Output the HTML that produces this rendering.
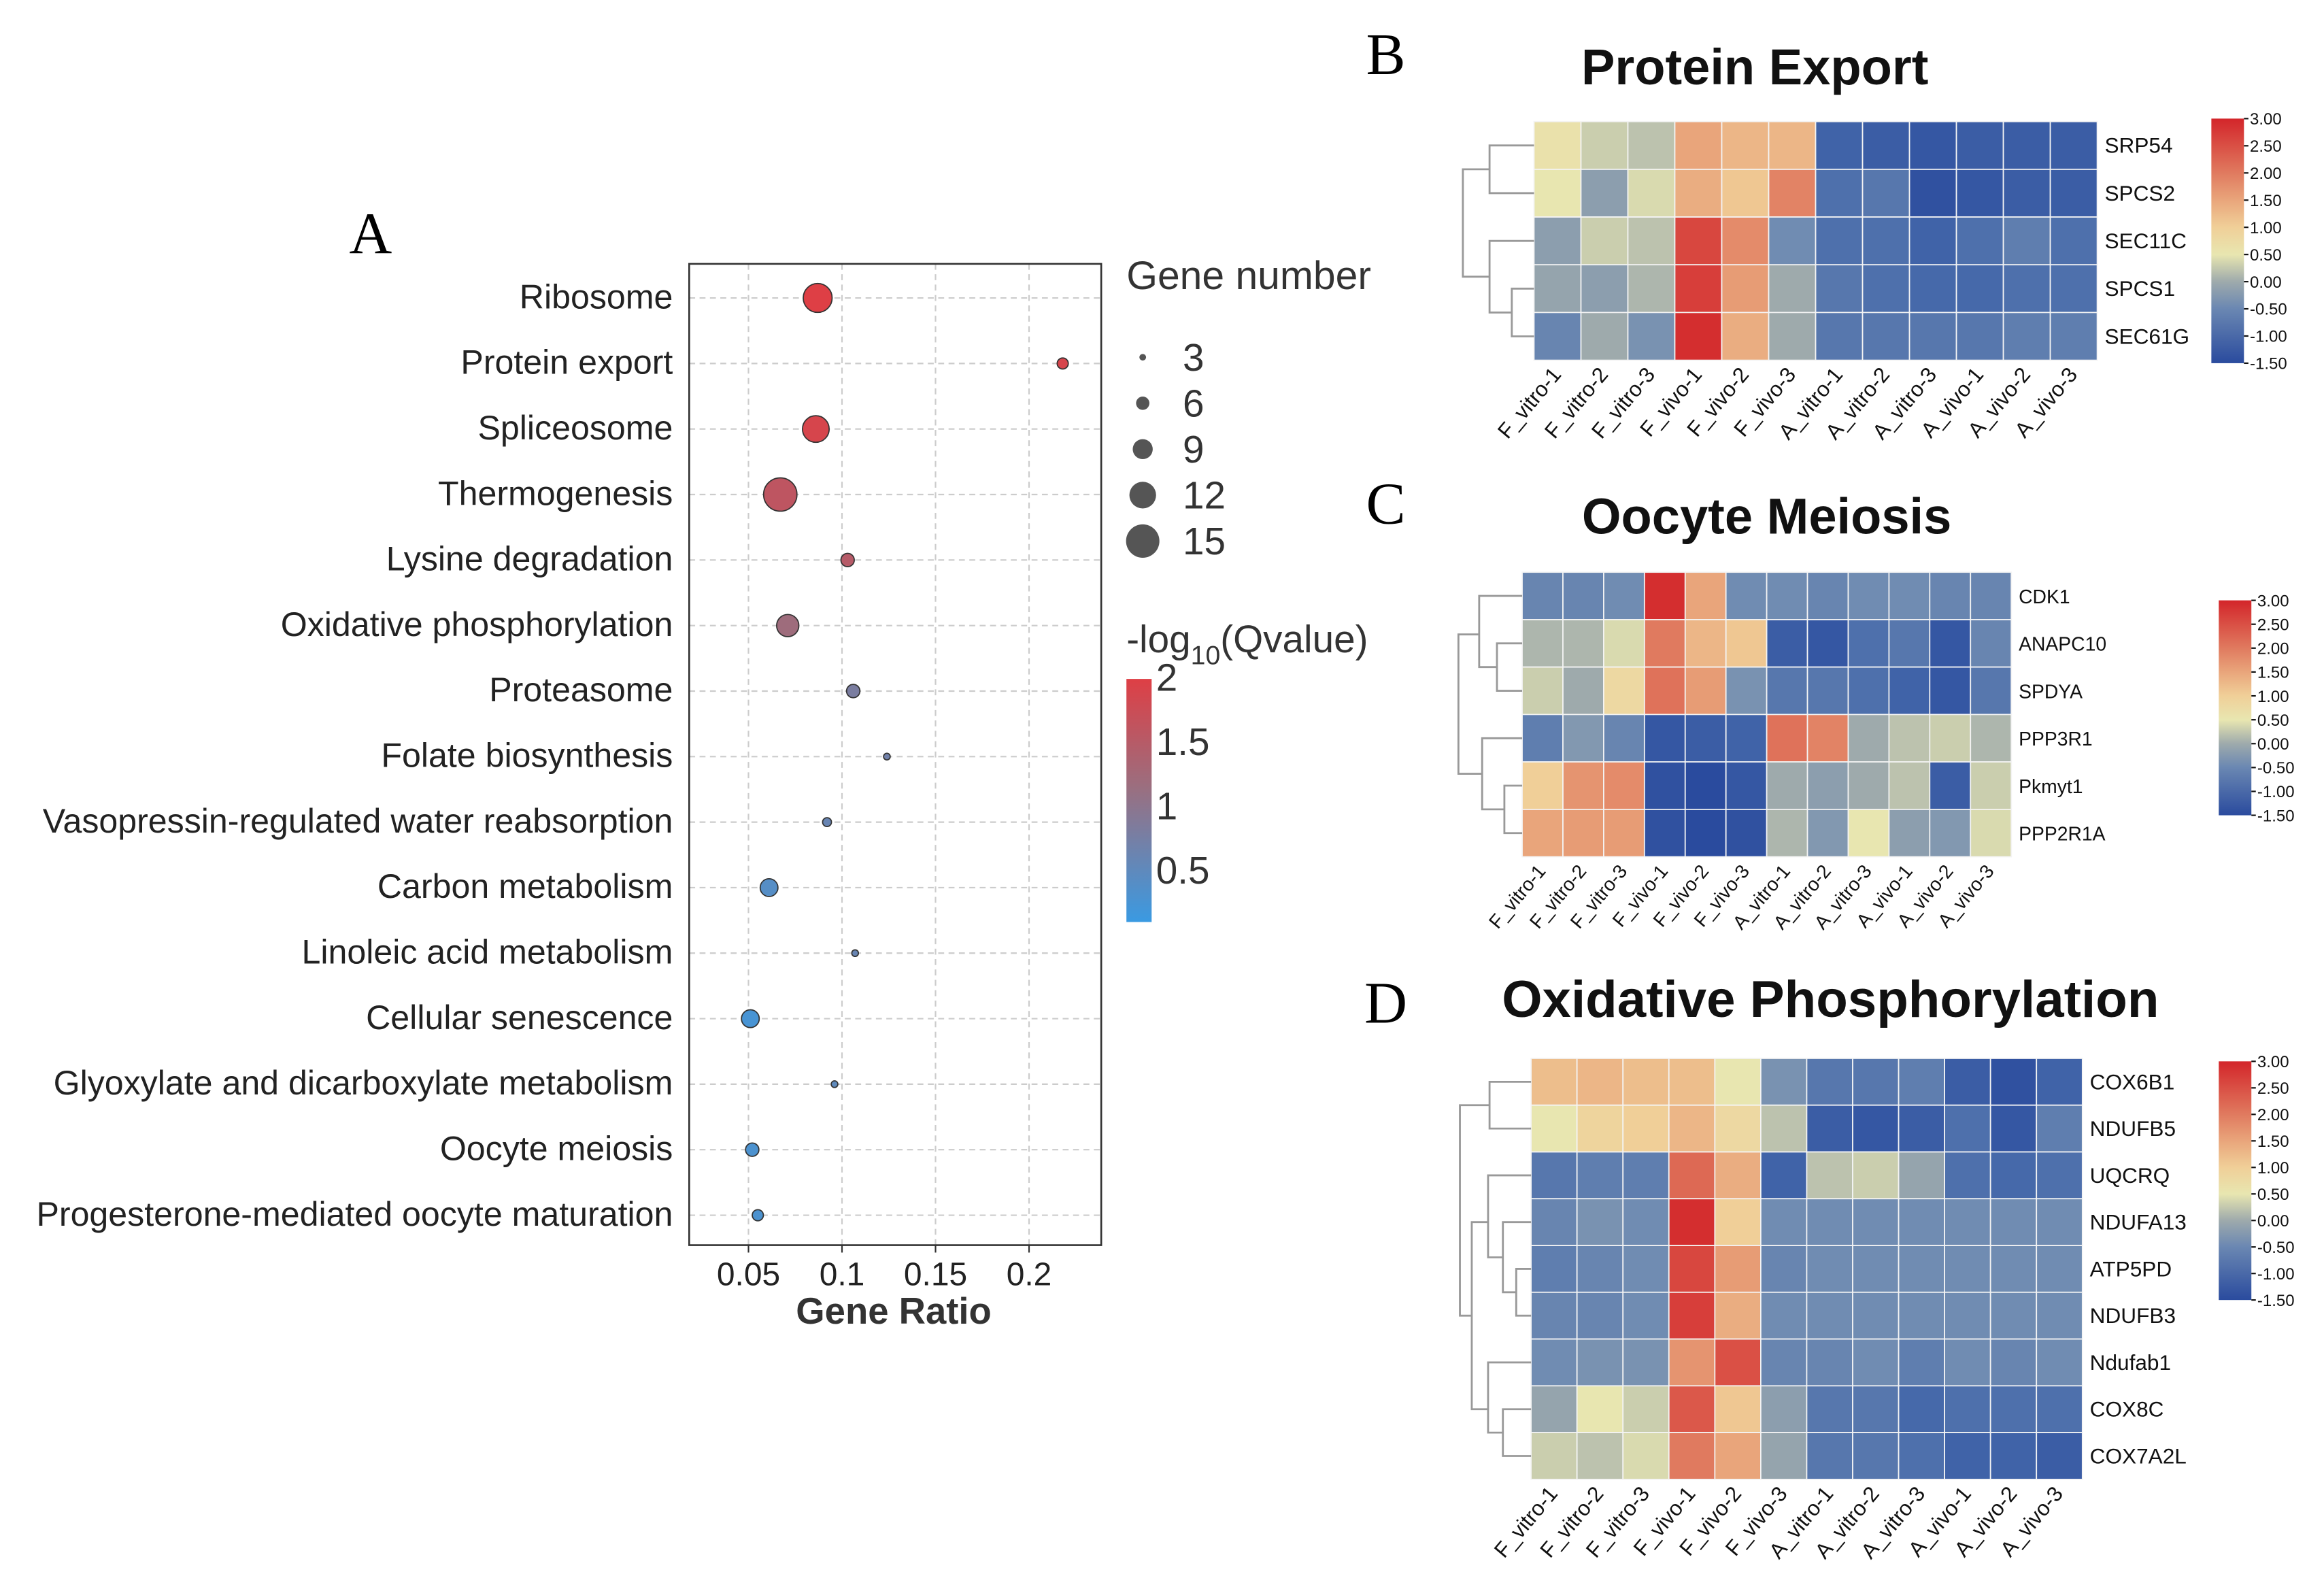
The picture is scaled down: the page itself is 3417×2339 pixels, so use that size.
<!DOCTYPE html>
<html><head><meta charset="utf-8"><style>html,body{margin:0;padding:0;background:#fff}svg{display:block}</style></head>
<body>
<svg id="fig" width="3417" height="2339" viewBox="0 0 1568 1073.3" xmlns="http://www.w3.org/2000/svg" font-family="Liberation Sans, sans-serif">
<defs>
<linearGradient id="qgrad" x1="0" y1="0" x2="0" y2="1"><stop offset="0" stop-color="#de3f45"/><stop offset="0.45" stop-color="#9a6f80"/><stop offset="1" stop-color="#3a9ae2"/></linearGradient>
<linearGradient id="hgrad" x1="0" y1="1" x2="0" y2="0">
<stop offset="0" stop-color="#2a4b9e"/><stop offset="0.222" stop-color="#6a87b2"/><stop offset="0.333" stop-color="#9eaaac"/><stop offset="0.444" stop-color="#e8e6b0"/><stop offset="0.556" stop-color="#f0cf98"/><stop offset="0.667" stop-color="#e9a57b"/><stop offset="0.778" stop-color="#e07a5f"/><stop offset="1" stop-color="#d3252a"/></linearGradient>
</defs>
<g id="panelA"></g>
<g id="heat"></g>
</svg>
<script>
const NS="http://www.w3.org/2000/svg";
function mk(p,tag,attrs,txt){const e=document.createElementNS(NS,tag);for(const k in attrs)e.setAttribute(k,attrs[k]);if(txt!==undefined)e.textContent=txt;p.appendChild(e);return e;}
const SERIF='Liberation Serif, serif';
// ---- Panel A data ----
const pathways=["Ribosome","Protein export","Spliceosome","Thermogenesis","Lysine degradation","Oxidative phosphorylation","Proteasome","Folate biosynthesis","Vasopressin-regulated water reabsorption","Carbon metabolism","Linoleic acid metabolism","Cellular senescence","Glyoxylate and dicarboxylate metabolism","Oocyte meiosis","Progesterone-mediated oocyte maturation"];
const geneRatio=[0.087,0.218,0.086,0.067,0.103,0.071,0.106,0.124,0.092,0.061,0.107,0.051,0.096,0.052,0.055];
const geneNumber=[13,5,12,15,6,10,6,3,4,8,3,8,3,6,5];
const qvalue=[2.0,1.9,1.9,1.6,1.5,1.2,0.8,0.7,0.6,0.4,0.6,0.25,0.5,0.3,0.3];
const xTicks=[0.05,0.1,0.15,0.2];
const sizeLegend=[3,6,9,12,15];
const qTicks=[2,1.5,1,0.5];
const A=document.getElementById('panelA');
const xS=v=>505+(v-0.05)*1262, yS=i=>201+i*44.2, rS=n=>0.75*n;
const qS=q=>458+(2-q)*86.7;
function qColor(q){const t=Math.max(0,Math.min(1,(2-q)/1.9));const s=[[222,63,69],[154,111,128],[58,154,226]];let a,b,u;if(t<0.45){a=s[0];b=s[1];u=t/0.45}else{a=s[1];b=s[2];u=(t-0.45)/0.55}return `rgb(${a.map((c,i)=>Math.round(c+(b[i]-c)*u)).join(',')})`;}
let el;
el=mk(A,'text',{x:250,y:171,'font-family':SERIF,'font-size':40,'text-anchor':'middle'},'A');

xTicks.forEach(t=>{el=mk(A,'line',{x1:xS(t),x2:xS(t),y1:178,y2:840,stroke:'#ccc','stroke-dasharray':'4,3'});});
pathways.forEach((p,i)=>{el=mk(A,'line',{x1:465,x2:743,y1:yS(i),y2:yS(i),stroke:'#ccc','stroke-dasharray':'4,3'});
 el=mk(A,'text',{x:454,y:yS(i)+7,'font-size':23,'text-anchor':'end',fill:'#222'},p);});
el=mk(A,'rect',{x:465,y:178,width:278,height:662,fill:'none',stroke:'#333','stroke-width':1.2});
pathways.forEach((p,i)=>{el=mk(A,'circle',{cx:xS(geneRatio[i]),cy:yS(i),r:rS(geneNumber[i]),fill:qColor(qvalue[i]),stroke:'#333','stroke-width':0.8});});
xTicks.forEach(t=>{el=mk(A,'line',{x1:xS(t),x2:xS(t),y1:840,y2:845,stroke:'#333'});
 el=mk(A,'text',{x:xS(t),y:867,'font-size':22,'text-anchor':'middle',fill:'#222'},String(t));});
el=mk(A,'text',{x:603,y:893,'font-size':25,'font-weight':'bold','text-anchor':'middle',fill:'#333'},'Gene Ratio');
el=mk(A,'text',{x:760,y:195,'font-size':27,fill:'#333'},'Gene number');
sizeLegend.forEach((n,i)=>{const y=241+i*31;el=mk(A,'circle',{cx:771,cy:y,r:rS(n),fill:'#555'});
 el=mk(A,'text',{x:798,y:y+9,'font-size':26,fill:'#333'},String(n));});
el=mk(A,'text',{x:760,y:440,'font-size':26,fill:'#333'});
el.innerHTML='-log<tspan font-size="18" dy="8">10</tspan><tspan dy="-8">(Qvalue)</tspan>';
el=mk(A,'rect',{x:760,y:458,width:17,height:164,fill:'url(#qgrad)'});
qTicks.forEach(q=>{el=mk(A,'text',{x:780,y:qS(q)+8,'font-size':26,fill:'#333'},String(q));});

// ---- Heatmap data ----
const samples=["F_vitro-1","F_vitro-2","F_vitro-3","F_vivo-1","F_vivo-2","F_vivo-3","A_vitro-1","A_vitro-2","A_vitro-3","A_vivo-1","A_vivo-2","A_vivo-3"];
const scaleTicks=["3.00","2.50","2.00","1.50","1.00","0.50","0.00","-0.50","-1.00","-1.50"];
const genesB=["SRP54","SPCS2","SEC11C","SPCS1","SEC61G"];
const valsB=[[0.6,0.3,0.2,1.5,1.3,1.3,-1.1,-1.2,-1.3,-1.2,-1.2,-1.2],[0.5,-0.2,0.4,1.4,1.1,1.9,-0.9,-0.8,-1.4,-1.3,-1.2,-1.2],[-0.2,0.3,0.2,2.6,1.8,-0.5,-0.9,-0.9,-1.1,-0.9,-0.7,-0.9],[-0.1,-0.2,0.1,2.7,1.6,0.0,-0.8,-0.9,-1.0,-1.0,-0.9,-0.9],[-0.6,0.0,-0.4,2.9,1.4,0.0,-0.8,-0.8,-0.8,-0.8,-0.7,-0.7]];
const genesC=["CDK1","ANAPC10","SPDYA","PPP3R1","Pkmyt1","PPP2R1A"];
const valsC=[[-0.6,-0.6,-0.5,2.9,1.5,-0.5,-0.5,-0.6,-0.5,-0.5,-0.6,-0.6],[0.1,0.1,0.4,2.0,1.3,1.1,-1.2,-1.3,-0.9,-0.8,-1.3,-0.6],[0.3,0.0,0.8,2.1,1.6,-0.4,-0.8,-0.8,-0.9,-1.1,-1.3,-0.8],[-0.7,-0.3,-0.6,-1.3,-1.2,-1.1,2.1,1.9,0.0,0.2,0.3,0.1],[1.0,1.7,1.8,-1.4,-1.5,-1.3,0.0,-0.2,0.0,0.2,-1.2,0.3],[1.5,1.6,1.6,-1.4,-1.5,-1.4,0.1,-0.3,0.5,-0.2,-0.3,0.4]];
const genesD=["COX6B1","NDUFB5","UQCRQ","NDUFA13","ATP5PD","NDUFB3","Ndufab1","COX8C","COX7A2L"];
const valsD=[[1.2,1.3,1.2,1.2,0.5,-0.4,-0.8,-0.8,-0.7,-1.2,-1.4,-1.1],[0.5,0.9,1.0,1.3,0.8,0.2,-1.2,-1.3,-1.2,-0.9,-1.3,-0.7],[-0.8,-0.7,-0.7,2.2,1.4,-1.1,0.2,0.3,-0.1,-0.9,-1.0,-0.9],[-0.6,-0.4,-0.5,2.9,1.0,-0.5,-0.5,-0.5,-0.5,-0.5,-0.5,-0.5],[-0.7,-0.6,-0.5,2.6,1.6,-0.6,-0.5,-0.5,-0.5,-0.5,-0.5,-0.5],[-0.6,-0.6,-0.5,2.7,1.4,-0.5,-0.5,-0.5,-0.5,-0.5,-0.5,-0.5],[-0.5,-0.4,-0.4,1.7,2.5,-0.6,-0.6,-0.5,-0.7,-0.5,-0.6,-0.5],[-0.1,0.5,0.3,2.4,1.1,-0.2,-0.8,-0.8,-1.0,-0.9,-0.9,-0.9],[0.3,0.2,0.4,2.0,1.5,-0.1,-0.8,-0.8,-0.9,-1.1,-1.1,-1.2]];

const stops=[[-1.5,[42,75,158]],[-1,[70,105,170]],[-0.5,[112,140,178]],[0,[158,170,172]],[0.5,[232,230,176]],[1,[240,207,152]],[1.5,[233,165,123]],[2,[224,122,95]],[3,[211,37,42]]];
function hColor(v){v=Math.max(-1.5,Math.min(3,v));for(let i=0;i<stops.length-1;i++){const[a,ca]=stops[i],[b,cb]=stops[i+1];if(v<=b){const u=(v-a)/(b-a);return `rgb(${ca.map((c,k)=>Math.round(c+(cb[k]-c)*u)).join(',')})`;}}return 'rgb(211,37,42)';}
const H=document.getElementById('heat');
function heat(cfg){
 const g=mk(H,'g',{});
 let e=mk(g,'text',{x:935,y:cfg.letterY,'font-family':SERIF,'font-size':40,'text-anchor':'middle'},cfg.letter);
 e=mk(g,'text',{x:cfg.titleX,y:cfg.titleY,'font-size':cfg.tfs,'font-weight':'bold','text-anchor':'middle',fill:'#111'},cfg.title);
 const cw=(cfg.x1-cfg.x0)/samples.length, ch=(cfg.y1-cfg.y0)/cfg.genes.length;
 cfg.vals.forEach((row,r)=>row.forEach((v,c)=>{e=mk(g,'rect',{x:cfg.x0+c*cw,y:cfg.y0+r*ch,width:cw,height:ch,fill:hColor(v),stroke:'#f4f4f4','stroke-width':0.8});}));
 cfg.genes.forEach((gn,r)=>{e=mk(g,'text',{x:cfg.x1+5,y:cfg.y0+(r+0.5)*ch+5,'font-size':cfg.fs,fill:'#111'},gn);});
 samples.forEach((s,c)=>{const x=cfg.x0+(c+0.6)*cw,y=cfg.y1+10;e=mk(g,'text',{x:x,y:y,'font-size':cfg.fs,'text-anchor':'end',fill:'#111',transform:`rotate(-50 ${x} ${y})`},s);});
 e=mk(g,'rect',{x:cfg.cbx,y:cfg.cby0,width:22,height:cfg.cby1-cfg.cby0,fill:'url(#hgrad)'});
 scaleTicks.forEach((t,i)=>{const y=cfg.cby0+i*(cfg.cby1-cfg.cby0)/9;e=mk(g,'line',{x1:cfg.cbx+22,x2:cfg.cbx+25,y1:y,y2:y,stroke:'#111'});
  e=mk(g,'text',{x:cfg.cbx+26,y:y+4,'font-size':11,fill:'#111'},t);});
 const d=mk(g,'path',{d:cfg.dendro(cfg.x0,cfg.y0,ch),fill:'none',stroke:'#999','stroke-width':1.3});
}
heat({name:'panel-b-protein-export',letter:'B',letterY:50,title:'Protein Export',titleX:1184,titleY:57,tfs:34,genes:genesB,vals:valsB,x0:1035,x1:1415,y0:82,y1:243,fs:14.5,cbx:1492,cby0:80,cby1:245,
 dendro:(x,y,h)=>{const m=i=>y+(i+0.5)*h;return `M${x} ${m(0)}H1005V${m(1)}H${x} M${x} ${m(3)}H1020V${m(4)}H${x} M${x} ${m(2)}H1005V${(m(3)+m(4))/2}H1020 M1005 ${(m(0)+m(1))/2}H987V${(m(2)+(m(3)+m(4))/2)/2}H1005`;}});
heat({name:'panel-c-oocyte-meiosis',letter:'C',letterY:353,title:'Oocyte Meiosis',titleX:1192,titleY:360,tfs:34,genes:genesC,vals:valsC,x0:1027,x1:1357,y0:386,y1:578,fs:13,cbx:1497,cby0:405,cby1:550,
 dendro:(x,y,h)=>{const m=i=>y+(i+0.5)*h;return `M${x} ${m(1)}H1010V${m(2)}H${x} M${x} ${m(0)}H998V${(m(1)+m(2))/2}H1010 M${x} ${m(4)}H1015V${m(5)}H${x} M${x} ${m(3)}H1000V${(m(4)+m(5))/2}H1015 M998 ${(m(0)+m(1))/2+10}H984V${(m(3)+m(4))/2+8}H1000`;}});
heat({name:'panel-d-oxidative-phosphorylation',letter:'D',letterY:690,title:'Oxidative Phosphorylation',titleX:1235,titleY:686,tfs:35,genes:genesD,vals:valsD,x0:1033,x1:1405,y0:714,y1:998,fs:14.5,cbx:1497,cby0:716,cby1:877,
 dendro:(x,y,h)=>{const m=i=>y+(i+0.5)*h;return `M${x} ${m(0)}H1005V${m(1)}H${x} M${x} ${m(4)}H1023V${m(5)}H${x} M${x} ${m(3)}H1014V${(m(4)+m(5))/2}H1023 M${x} ${m(2)}H1004V${(m(3)+m(4))/2+8}H1014 M${x} ${m(7)}H1014V${m(8)}H${x} M${x} ${m(6)}H1004V${(m(7)+m(8))/2}H1014 M1004 ${(m(2)+m(4))/2}H993V${(m(6)+m(8))/2}H1004 M1005 ${(m(0)+m(1))/2}H985V${(m(3)+m(7))/2}H993`;}});
</script>
</body></html>
